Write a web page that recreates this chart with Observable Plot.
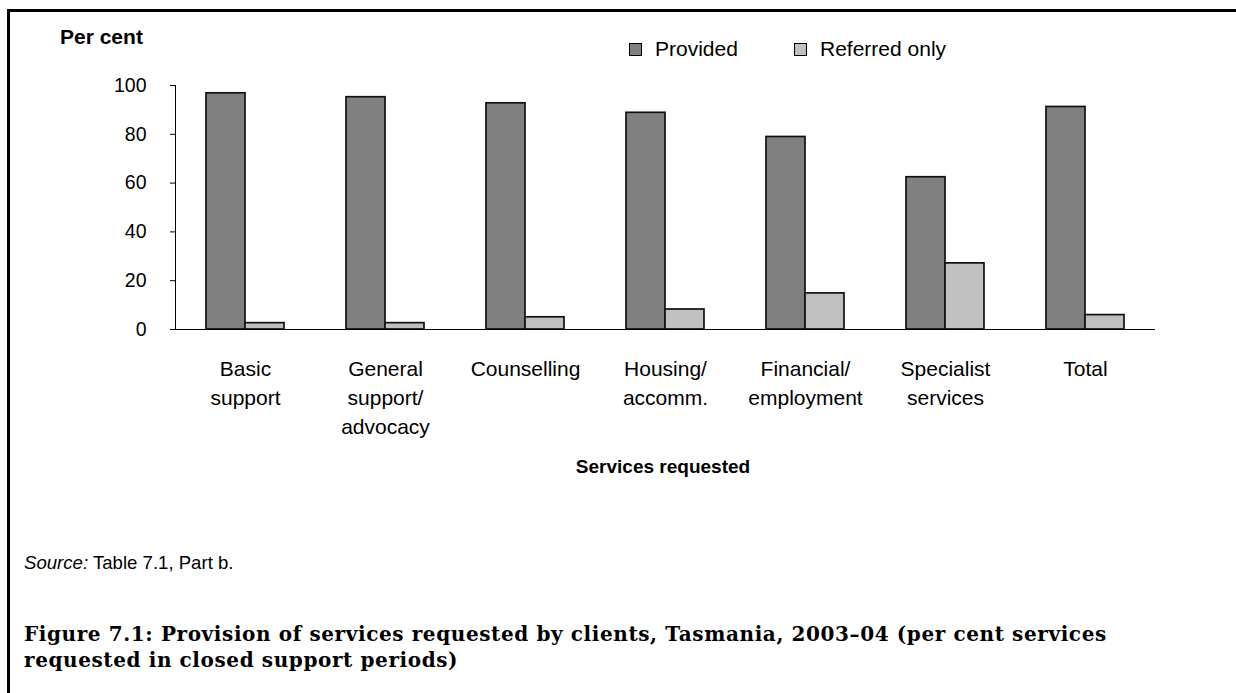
<!DOCTYPE html>
<html>
<head>
<meta charset="utf-8">
<script src="https://cdn.jsdelivr.net/npm/d3@7"></script>
<script src="https://cdn.jsdelivr.net/npm/@observablehq/plot@0.6"></script>
<style>
  html, body { margin: 0; padding: 0; background: #fff; }
  body { width: 1236px; height: 693px; position: relative; overflow: hidden; font-family: "Liberation Sans", Arial, sans-serif; color: #000; }
  #frame { position: absolute; left: 7px; top: 9px; right: -10px; bottom: -10px; border-top: 3px solid #000; border-left: 3px solid #000; }
  #chart { position: absolute; left: 0; top: 0; }
  .abs { position: absolute; white-space: nowrap; }
  #ylabel { left: 60px; top: 25px; font-weight: bold; font-size: 21px; }
  .legend-item { position: absolute; top: 37px; font-size: 21px; display: flex; align-items: center; }
  .swatch { width: 11px; height: 11px; border: 1.5px solid #000; margin-right: 13px; }
  #xlabel { left: 0; width: 1326px; top: 456px; text-align: center; font-weight: bold; font-size: 19px; }
  #source { left: 24px; top: 552px; font-size: 18.6px; }
  #caption { left: 24px; top: 621px; font-family: "DejaVu Serif", "Liberation Serif", serif; font-weight: bold; font-size: 20px; letter-spacing: 0.6px; line-height: 26px; }
</style>
</head>
<body>
<div id="frame"></div>
<div id="chart"></div>
<div id="ylabel" class="abs">Per cent</div>
<div id="legend"></div>
<div id="xlabel" class="abs">Services requested</div>
<div id="source" class="abs"><i>Source:</i> Table 7.1, Part b.</div>
<div id="caption" class="abs">Figure 7.1: Provision of services requested by clients, Tasmania, 2003–04 (per cent services<br>requested in closed support periods)</div>
<script>
// ---- data ----
const categories = ["Basic support", "General support/advocacy", "Counselling", "Housing/accomm.", "Financial/employment", "Specialist services", "Total"];
const categoryLabels = ["Basic\nsupport", "General\nsupport/\nadvocacy", "Counselling", "Housing/\naccomm.", "Financial/\nemployment", "Specialist\nservices", "Total"];
const seriesNames = ["Provided", "Referred only"];
const provided = [96.8, 95.2, 92.7, 88.8, 78.9, 62.4, 91.2];
const referredOnly = [2.6, 2.6, 5.0, 8.2, 14.8, 27.1, 5.9];
const yTicks = [0, 20, 40, 60, 80, 100];
const seriesColors = ["#808080", "#c0c0c0"];

const rows = [];
categories.forEach((c, i) => {
  rows.push({category: c, series: seriesNames[0], value: provided[i]});
  rows.push({category: c, series: seriesNames[1], value: referredOnly[i]});
});
const labelOf = new Map(categories.map((c, i) => [c, categoryLabels[i]]));

const width = 1236, height = 440;
const mL = 173, mR = 79, mT = 85, mB = 111;
const bandW = (width - mL - mR) / categories.length;
const pOuter = (bandW / 40 - 2) / 2;

const chart = Plot.plot({
  width, height,
  marginLeft: mL, marginRight: mR, marginTop: mT, marginBottom: mB,
  style: {fontFamily: "'Liberation Sans', Arial, sans-serif", color: "#000", background: "transparent"},
  fx: {domain: categories, padding: 0},
  x: {domain: seriesNames, paddingInner: 0, paddingOuter: pOuter, axis: null},
  y: {domain: [0, 100]},
  color: {domain: seriesNames, range: seriesColors},
  marks: [
    Plot.barY(rows, {fx: "category", x: "series", y: "value", fill: "series", stroke: "#111", strokeWidth: 1.7}),
    Plot.ruleY([0], {stroke: "#000", strokeWidth: 1}),
    Plot.frame({anchor: "left", facetAnchor: "left", stroke: "#000", strokeWidth: 1}),
    Plot.axisY({ticks: yTicks, tickSize: 5, tickPadding: 24, fontSize: 19.5, label: null, stroke: "#000"}),
    Plot.axisFx({anchor: "bottom", tickSize: 0, tickPadding: 26, fontSize: 21, lineHeight: 1.38, label: null, tickFormat: d => labelOf.get(d)})
  ]
});
document.getElementById("chart").appendChild(chart);

// legend
const legend = document.getElementById("legend");
const legendX = [629, 794];
seriesNames.forEach((s, i) => {
  const item = document.createElement("div");
  item.className = "legend-item";
  item.style.left = legendX[i] + "px";
  const sw = document.createElement("div");
  sw.className = "swatch";
  sw.style.background = seriesColors[i];
  item.appendChild(sw);
  item.appendChild(document.createTextNode(s));
  legend.appendChild(item);
});
</script>
</body>
</html>
